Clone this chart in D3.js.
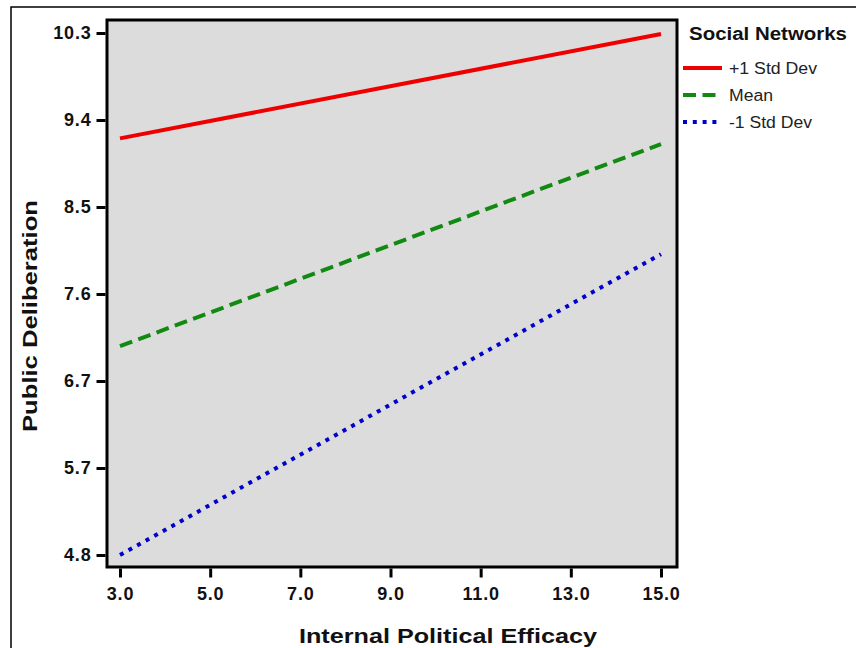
<!DOCTYPE html>
<html>
<head>
<meta charset="utf-8">
<script src="https://cdn.jsdelivr.net/npm/d3@7"></script>
<style>
  body { margin: 0; background: #fff; }
  svg { display: block; font-family: "Liberation Sans", Arial, sans-serif; }
</style>
</head>
<body>
<svg id="chart" width="856" height="648"></svg>
<script>
// data
const xValues = [3, 15];
const seriesNames = ["+1 Std Dev", "Mean", "-1 Std Dev"];
const plusOne = [9.19, 10.29];
const meanVals = [7.0, 9.13];
const minusOne = [4.8, 7.97];
const xTicks = [3, 5, 7, 9, 11, 13, 15];
const yTickLabels = ["4.8", "5.7", "6.7", "7.6", "8.5", "9.4", "10.3"];

const yMin = 4.8, yMax = 10.3;
const svg = d3.select("#chart");

// outer frame (runs off the right/bottom edge)
svg.append("rect").attr("x", 11).attr("y", 7).attr("width", 900).attr("height", 700)
    .attr("fill", "none").attr("stroke", "#000").attr("stroke-width", 1.5);

const plot = { l: 107, t: 20, r: 677, b: 567 };
const x = d3.scaleLinear().domain([3, 15]).range([120, 661]);
const y = d3.scaleLinear().domain([yMin, yMax]).range([555, 33]);

svg.append("rect").attr("x", plot.l).attr("y", plot.t)
    .attr("width", plot.r - plot.l).attr("height", plot.b - plot.t)
    .attr("fill", "#dcdcdc").attr("stroke", "#000").attr("stroke-width", 3);

// y ticks are evenly spaced between min and max
const yTickVals = yTickLabels.map((d, i) => yMin + i * (yMax - yMin) / (yTickLabels.length - 1));
const yAxis = d3.axisLeft(y).tickValues(yTickVals).tickFormat((d, i) => yTickLabels[i])
    .tickSizeInner(9).tickSizeOuter(0).tickPadding(6);
const gy = svg.append("g").attr("transform", `translate(${plot.l - 1.5},0)`).call(yAxis);
gy.select(".domain").remove();
gy.selectAll(".tick line").attr("stroke", "#000").attr("stroke-width", 3);
gy.selectAll(".tick text").attr("fill", "#111").attr("font-size", 18).attr("font-weight", "bold")
    .attr("letter-spacing", 0.8).attr("dx", 1);

const xAxis = d3.axisBottom(x).tickValues(xTicks).tickFormat(d3.format(".1f"))
    .tickSizeInner(9).tickSizeOuter(0).tickPadding(10);
const gx = svg.append("g").attr("transform", `translate(0,${plot.b + 1.5})`).call(xAxis);
gx.select(".domain").remove();
gx.selectAll(".tick line").attr("stroke", "#000").attr("stroke-width", 3);
gx.selectAll(".tick text").attr("fill", "#111").attr("font-size", 18).attr("font-weight", "bold")
    .attr("letter-spacing", 0.8);

const series = [
    { name: seriesNames[0], vals: plusOne, color: "#ee0000", dash: null, len: 88 },
    { name: seriesNames[1], vals: meanVals, color: "#128a12", dash: "13,6.5", len: 44 },
    { name: seriesNames[2], vals: minusOne, color: "#0000cc", dash: "4,5.8", len: 83 }
];

const line = d3.line().x(d => x(d[0])).y(d => y(d[1]));
series.forEach(s => {
    svg.append("path").datum(xValues.map((xv, i) => [xv, s.vals[i]]))
        .attr("d", line).attr("fill", "none").attr("stroke", s.color)
        .attr("stroke-width", 4).attr("stroke-dasharray", s.dash);
});

// axis titles
svg.append("text").attr("x", 299).attr("y", 643)
    .attr("font-size", 21).attr("font-weight", "bold").attr("fill", "#111")
    .attr("textLength", 298).attr("lengthAdjust", "spacingAndGlyphs")
    .text("Internal Political Efficacy");
svg.append("text").attr("transform", "translate(37,432) rotate(-90)")
    .attr("font-size", 21).attr("font-weight", "bold").attr("fill", "#111")
    .attr("textLength", 232).attr("lengthAdjust", "spacingAndGlyphs")
    .text("Public Deliberation");

// legend
const lg = svg.append("g");
lg.append("text").attr("x", 689).attr("y", 40).attr("font-size", 18).attr("font-weight", "bold")
    .attr("fill", "#111").attr("textLength", 158).attr("lengthAdjust", "spacingAndGlyphs")
    .text("Social Networks");
series.forEach((s, i) => {
    const yy = 68 + i * 27;
    lg.append("line").attr("x1", 683).attr("x2", 722).attr("y1", yy).attr("y2", yy)
        .attr("stroke", s.color).attr("stroke-width", 4).attr("stroke-dasharray", s.dash);
    lg.append("text").attr("x", 729).attr("y", yy + 5.5).attr("font-size", 16)
        .attr("fill", "#222").attr("textLength", s.len).attr("lengthAdjust", "spacingAndGlyphs")
        .text(s.name);
});
</script>
</body>
</html>
